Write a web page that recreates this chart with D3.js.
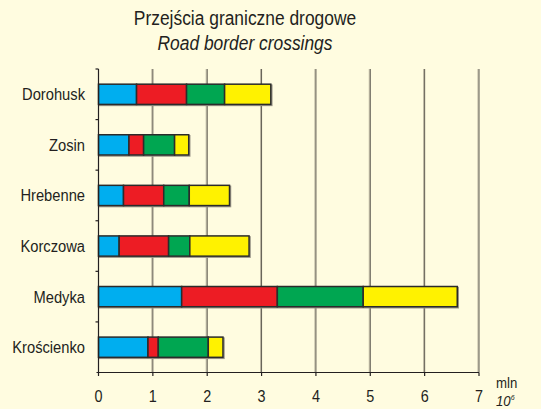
<!DOCTYPE html>
<html lang="pl">
<head>
<meta charset="utf-8">
<title>Przejścia graniczne drogowe</title>
<style>
body { margin: 0; background: #fffce0; }
svg { display: block; }
text { font-family: "Liberation Sans", Arial, sans-serif; fill: #231f20; }
.title { font-size: 20px; text-anchor: middle; }
.cat { font-size: 16px; text-anchor: end; }
.tick { font-size: 16px; text-anchor: middle; }
</style>
</head>
<body>
<div id="chart"></div>
<script src="https://d3js.org/d3.v7.min.js"></script>
<script>
// crossings, top to bottom
var crossings = ['Dorohusk', 'Zosin', 'Hrebenne', 'Korczowa', 'Medyka', 'Krościenko'];
// four segments per bar, millions
var seg1 = [0.70, 0.56, 0.46, 0.38, 1.53, 0.91];
var seg2 = [0.92, 0.27, 0.74, 0.91, 1.76, 0.19];
var seg3 = [0.70, 0.57, 0.47, 0.39, 1.58, 0.92];
var seg4 = [0.85, 0.26, 0.74, 1.09, 1.73, 0.27];
var segColors = ['#00aeef', '#ed1c24', '#00a651', '#fff200'];
var xTicks = [0, 1, 2, 3, 4, 5, 6, 7];

var W = 541, H = 409;
var svg = d3.select('#chart').append('svg').attr('width', W).attr('height', H);
svg.append('rect').attr('width', W).attr('height', H).attr('fill', '#fffce0');

var x = d3.scaleLinear().domain([0, 7]).range([98.5, 479]);
var y = d3.scaleBand().domain(crossings).range([69, 372.5])
  .paddingInner(0.6).paddingOuter(0.3);

// the original uses a narrow face, so squeeze text horizontally
function place(sel, px, py, sx) {
  return sel.attr('transform', 'translate(' + px + ',' + py + ') scale(' + sx + ',1)');
}

// title
place(svg.append('text').attr('class', 'title').text('Przejścia graniczne drogowe'), 245, 25, 0.87);
place(svg.append('text').attr('class', 'title').style('font-style', 'italic')
  .text('Road border crossings'), 245, 50, 0.87);

// gridlines
var grid = svg.append('g');
xTicks.slice(1).forEach(function(t) {
  grid.append('line').attr('x1', x(t) - 1).attr('x2', x(t) - 1).attr('y1', 69).attr('y2', 372.5)
    .attr('stroke', '#b9b39f').attr('stroke-width', 1);
  grid.append('line').attr('x1', x(t)).attr('x2', x(t)).attr('y1', 69).attr('y2', 372.5)
    .attr('stroke', '#5f5b52').attr('stroke-width', 1);
});

// stacked bars
var rows = crossings.map(function(c, i) {
  var vals = [seg1[i], seg2[i], seg3[i], seg4[i]];
  var acc = 0, parts = [];
  vals.forEach(function(v, k) { parts.push({ c: c, x0: acc, x1: acc + v, k: k }); acc += v; });
  return { c: c, parts: parts, total: acc };
});

var bars = svg.append('g');
// soft shadow behind each bar
bars.selectAll('rect.shadow').data(rows).enter().append('rect')
  .attr('x', x(0) + 1).attr('y', function(d) { return y(d.c) + 1; })
  .attr('width', function(d) { return x(d.total) - x(0); })
  .attr('height', y.bandwidth())
  .attr('fill', 'none').attr('stroke', '#9a9588').attr('stroke-width', 1.5);
rows.forEach(function(r) {
  bars.selectAll(null).data(r.parts).enter().append('rect')
    .attr('x', function(d) { return x(d.x0); })
    .attr('y', y(r.c))
    .attr('width', function(d) { return x(d.x1) - x(d.x0); })
    .attr('height', y.bandwidth())
    .attr('fill', function(d) { return segColors[d.k]; })
    .attr('stroke', '#2b2b2b').attr('stroke-width', 1.5);
});

// y axis with ticks between the bands
var ax = svg.append('g').attr('stroke', '#231f20').attr('stroke-width', 1.2);
ax.append('line').attr('x1', x(0)).attr('x2', x(0)).attr('y1', 69).attr('y2', 372.5);
d3.range(crossings.length).forEach(function(i) {
  var yy = 69 + i * y.step();
  ax.append('line').attr('x1', x(0) - 3).attr('x2', x(0)).attr('y1', yy).attr('y2', yy);
});
// x axis
ax.append('line').attr('x1', x(0) - 2).attr('x2', x(7)).attr('y1', 372.5).attr('y2', 372.5);
xTicks.forEach(function(t) {
  ax.append('line').attr('x1', x(t)).attr('x2', x(t)).attr('y1', 372.5).attr('y2', 376);
});

svg.selectAll('text.tick').data(xTicks).enter().append('text')
  .attr('class', 'tick')
  .attr('transform', function(d) { return 'translate(' + x(d) + ',402) scale(0.9,1)'; })
  .text(function(d) { return d; });

svg.selectAll('text.cat').data(crossings).enter().append('text')
  .attr('class', 'cat')
  .attr('transform', function(d) {
    return 'translate(85,' + (y(d) + y.bandwidth() / 2 + 6) + ') scale(0.92,1)';
  })
  .text(function(d) { return d; });

// unit
place(svg.append('text').style('font-size', '15px').text('mln'), 496, 388, 0.88);
var u = place(svg.append('text').style('font-size', '15px').style('font-style', 'italic'), 496, 406, 0.88);
u.append('tspan').text('10');
u.append('tspan').attr('dy', -6).style('font-size', '8px').text('6');
</script>
</body>
</html>
